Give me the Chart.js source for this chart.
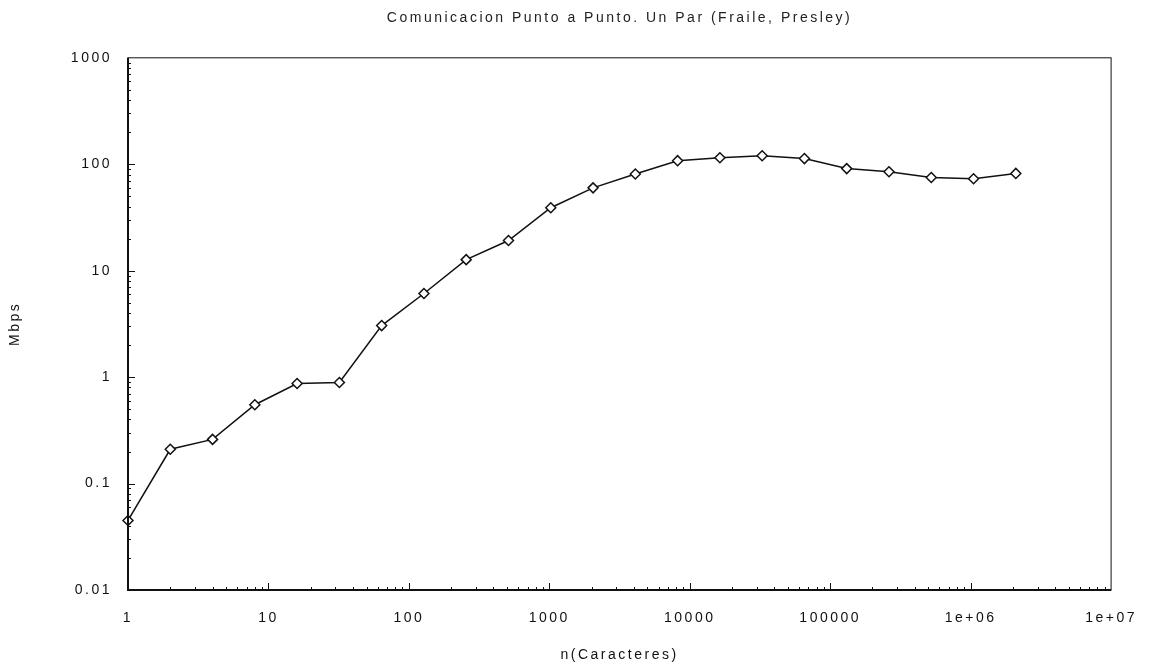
<!DOCTYPE html>
<html>
<head>
<meta charset="utf-8">
<script src="https://cdn.jsdelivr.net/npm/chart.js@4/dist/chart.umd.min.js"></script>
<style>
  html, body { margin: 0; padding: 0; background: #fff; }
  #wrap { width: 1157px; height: 672px; }
</style>
</head>
<body>
<div id="wrap"><canvas id="chart" width="1157" height="672"></canvas></div>
<script>
// message size (characters), powers of two
const charCounts = [1, 2, 4, 8, 16, 32, 64, 128, 256, 512, 1024, 2048, 4096, 8192,
    16384, 32768, 65536, 131072, 262144, 524288, 1048576, 2097152];
// throughput in Mbps
const mbps = [0.045, 0.21, 0.26, 0.55, 0.87, 0.89, 3.05, 6.1, 12.7, 19.2, 39, 60, 81,
    108, 115, 120, 113, 91, 85, 75, 73, 82];

const xTicks = [1, 10, 100, 1000, 10000, 100000, 1e6, 1e7];
const xLabels = ['1', '10', '100', '1000', '10000', '100000', '1e+06', '1e+07'];
const yTicks = [0.01, 0.1, 1, 10, 100, 1000];
const yLabels = ['0.01', '0.1', '1', '10', '100', '1000'];

const FONT = { family: '"Liberation Sans", Arial, sans-serif', size: 14 };
const INK = '#111';

// spread the letters a bit like the scanned original
const spacing = {
    id: 'spacing',
    beforeUpdate(chart) { chart.ctx.letterSpacing = '2.5px'; },
    beforeDraw(chart) { chart.ctx.letterSpacing = '2.5px'; }
};

// frame plus inward major/minor ticks on the left and bottom axes
const frame = {
    id: 'frame',
    afterDatasetsDraw(chart) {
        const { ctx, chartArea: a, scales: { x, y } } = chart;
        ctx.save();
        ctx.strokeStyle = INK;
        ctx.lineWidth = 1;
        ctx.strokeRect(a.left, a.top, a.right - a.left, a.bottom - a.top);
        ctx.lineWidth = 2;
        ctx.beginPath();
        ctx.moveTo(a.left, a.top);
        ctx.lineTo(a.left, a.bottom);
        ctx.lineTo(a.right, a.bottom);
        ctx.stroke();
        ctx.lineWidth = 1;
        ctx.beginPath();
        for (let d = 0; d < 7; d++) {
            for (let m = 1; m < 10; m++) {
                const px = Math.round(x.getPixelForValue(m * Math.pow(10, d))) + 0.5;
                const len = m === 1 ? 7 : 3;
                if (m === 1 && d === 0) continue;
                ctx.moveTo(px, a.bottom);
                ctx.lineTo(px, a.bottom - len);
            }
        }
        for (let d = -2; d < 3; d++) {
            for (let m = 1; m < 10; m++) {
                const py = Math.round(y.getPixelForValue(m * Math.pow(10, d))) + 0.5;
                const len = m === 1 ? 7 : 3;
                if (m === 1 && d === -2) continue;
                ctx.moveTo(a.left, py);
                ctx.lineTo(a.left + len, py);
            }
        }
        ctx.stroke();
        ctx.restore();
    }
};

const ctx = document.getElementById('chart').getContext('2d');
new Chart(ctx, {
    type: 'line',
    data: {
        datasets: [{
            data: charCounts.map((c, i) => ({ x: c, y: mbps[i] })),
            borderColor: INK,
            borderWidth: 1.5,
            backgroundColor: '#fff',
            pointStyle: 'rectRot',
            pointRadius: 5,
            pointBorderWidth: 1.5,
            pointBorderColor: INK,
            pointBackgroundColor: '#fff',
            tension: 0,
            clip: false
        }]
    },
    options: {
        responsive: false,
        animation: false,
        layout: { padding: { left: 0, right: 37, top: 0, bottom: 0 } },
        plugins: {
            legend: { display: false },
            tooltip: { enabled: false },
            title: {
                display: true,
                fullSize: false,
                text: 'Comunicacion Punto a Punto. Un Par (Fraile, Presley)',
                color: '#222',
                font: { ...FONT, weight: 'normal' },
                padding: { top: 10, bottom: 31 }
            }
        },
        scales: {
            x: {
                type: 'logarithmic',
                min: 1,
                max: 1e7,
                afterBuildTicks: s => { s.ticks = xTicks.map(v => ({ value: v })); },
                afterFit: s => { s.height = 82; },
                grid: { display: false, drawTicks: false },
                border: { display: false },
                ticks: {
                    autoSkip: false,
                    maxRotation: 0,
                    padding: 20,
                    color: INK,
                    font: FONT,
                    callback: (v, i) => xLabels[i]
                },
                title: {
                    display: true,
                    text: 'n(Caracteres)',
                    color: INK,
                    font: FONT,
                    padding: { top: 0, bottom: 8 }
                }
            },
            y: {
                type: 'logarithmic',
                min: 0.01,
                max: 1000,
                afterBuildTicks: s => { s.ticks = yTicks.map(v => ({ value: v })); },
                afterFit: s => { s.width = 128; },
                grid: { display: false, drawTicks: false },
                border: { display: false },
                ticks: {
                    autoSkip: false,
                    padding: 16,
                    color: INK,
                    font: FONT,
                    callback: (v, i) => yLabels[i]
                },
                title: {
                    display: true,
                    text: 'Mbps',
                    color: INK,
                    font: FONT,
                    padding: { top: 7, bottom: 0 }
                }
            }
        }
    },
    plugins: [spacing, frame]
});
</script>
</body>
</html>
